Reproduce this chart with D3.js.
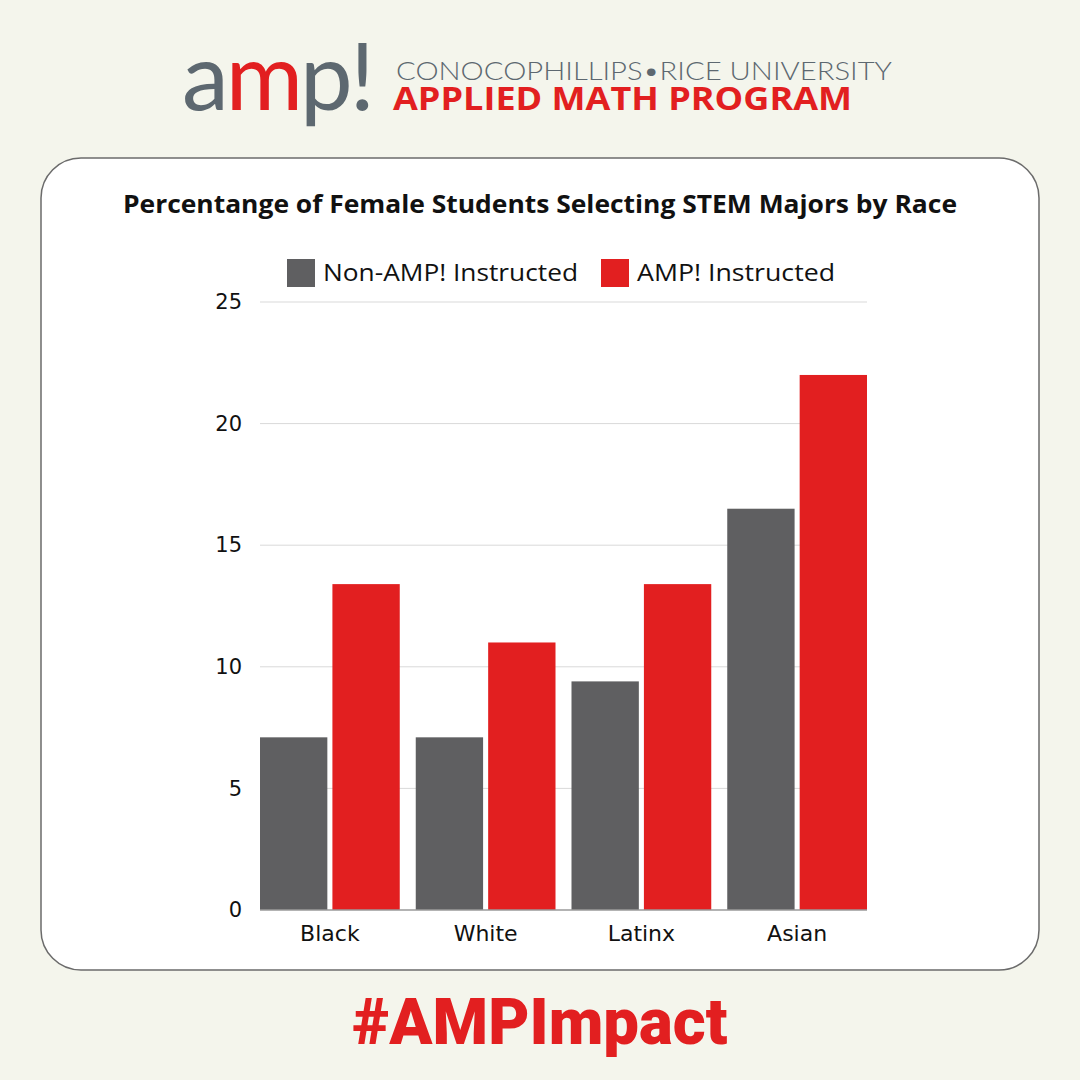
<!DOCTYPE html>
<html>
<head>
<meta charset="utf-8">
<script src="https://cdn.jsdelivr.net/npm/d3@7"></script>
<style>
html,body{margin:0;padding:0;background:#f4f5ec;}
svg{display:block;}
</style>
</head>
<body>
<svg id="chart" width="1080" height="1080"></svg>
<script>
const categories = ["Black", "White", "Latinx", "Asian"];
const seriesNames = ["Non-AMP! Instructed", "AMP! Instructed"];
const nonAmpValues = [7.1, 7.1, 9.4, 16.5];
const ampValues = [13.4, 11.0, 13.4, 22.0];
const yTicks = [0, 5, 10, 15, 20, 25];
const colors = ["#5f5f61", "#e21f20"];

const svg = d3.select("#chart");
svg.append("rect").attr("width",1080).attr("height",1080).attr("fill","#f4f5ec");

// Header logo
const logo = svg.append("text").attr("x",182).attr("y",110)
  .attr("font-family","Lato, 'DejaVu Sans', sans-serif").attr("font-weight",400)
  .attr("font-size",94).attr("letter-spacing",-3);
logo.append("tspan").attr("fill","#5d6870").text("a");
logo.append("tspan").attr("fill","#e21f20").text("m");
logo.append("tspan").attr("fill","#5d6870").text("p!");

svg.append("text").attr("x",396).attr("y",80)
  .attr("font-family","Lato, sans-serif").attr("font-weight",300)
  .attr("font-size",25).attr("fill","#5d6870")
  .attr("textLength",496).attr("lengthAdjust","spacingAndGlyphs")
  .text("CONOCOPHILLIPS\u2022RICE UNIVERSITY");
svg.append("text").attr("x",393).attr("y",110)
  .attr("font-family","'Open Sans', sans-serif").attr("font-weight",700)
  .attr("font-size",33).attr("fill","#e21f20")
  .attr("textLength",459).attr("lengthAdjust","spacingAndGlyphs")
  .text("APPLIED MATH PROGRAM");

// Card
svg.append("rect").attr("x",41).attr("y",158).attr("width",998).attr("height",812)
  .attr("rx",40).attr("ry",40).attr("fill","#ffffff").attr("stroke","#6b6b6b").attr("stroke-width",1.5);

svg.append("text").attr("x",540).attr("y",213).attr("text-anchor","middle")
  .attr("font-family","'Open Sans', sans-serif").attr("font-weight",700)
  .attr("font-size",25).attr("fill","#111")
  .attr("textLength",834).attr("lengthAdjust","spacingAndGlyphs")
  .text("Percentange of Female Students Selecting STEM Majors by Race");

// Legend
const legendX = [287, 601];
const legendLen = [255, 198];
seriesNames.forEach((n,i)=>{
  svg.append("rect").attr("x",legendX[i]).attr("y",259).attr("width",28).attr("height",28).attr("fill",colors[i]);
  svg.append("text").attr("x",legendX[i]+36).attr("y",281)
    .attr("font-family","'Open Sans', sans-serif").attr("font-size",23).attr("fill","#111")
    .attr("textLength",legendLen[i]).attr("lengthAdjust","spacingAndGlyphs").text(n);
});

// Chart
const margin = {left:260, right:867, top:302, bottom:910};
const x0 = d3.scaleBand().domain(categories).range([margin.left, margin.right + 16]).paddingInner(0).paddingOuter(0);
const x1 = d3.scaleBand().domain([0,1]).range([0, x0.bandwidth()-16]).paddingInner(0.07);
const y = d3.scaleLinear().domain([0,25]).range([margin.bottom, margin.top]);

const g = svg.append("g");
g.selectAll("line.grid").data(yTicks.filter(t=>t>0)).join("line")
  .attr("x1",margin.left).attr("x2",margin.right)
  .attr("y1",d=>y(d)).attr("y2",d=>y(d))
  .attr("stroke","#d9d9d9").attr("stroke-width",1);

const yAxis = g.append("g").attr("transform",`translate(${margin.left},0)`)
  .call(d3.axisLeft(y).tickValues(yTicks).tickSize(0).tickPadding(18));
yAxis.select(".domain").remove();
yAxis.selectAll("text").attr("font-family","'DejaVu Sans', sans-serif").attr("font-size",21).attr("fill","#111");

const data = categories.map((c,i)=>({cat:c, vals:[nonAmpValues[i], ampValues[i]]}));
const groups = g.selectAll("g.grp").data(data).join("g")
  .attr("transform",d=>`translate(${x0(d.cat)},0)`);
groups.selectAll("rect").data(d=>d.vals.map((v,i)=>({v,i}))).join("rect")
  .attr("x",d=>x1(d.i)).attr("width",x1.bandwidth())
  .attr("y",d=>y(d.v)).attr("height",d=>y(0)-y(d.v))
  .attr("fill",d=>colors[d.i]);

g.append("line").attr("x1",margin.left).attr("x2",margin.right)
  .attr("y1",y(0)).attr("y2",y(0)).attr("stroke","#9a9a9a").attr("stroke-width",1.5);

g.selectAll("text.cat").data(categories).join("text").attr("class","cat")
  .attr("x",d=>x0(d)+(x0.bandwidth()-16)/2).attr("y",941).attr("text-anchor","middle")
  .attr("font-family","'DejaVu Sans', sans-serif").attr("font-size",22).attr("fill","#111")
  .text(d=>d);

// Footer
svg.append("text").attr("x",540).attr("y",1044).attr("text-anchor","middle")
  .attr("font-family","Roboto, 'Liberation Sans', sans-serif").attr("font-weight",900)
  .attr("font-size",64).attr("fill","#e21f20")
  .attr("textLength",375).attr("lengthAdjust","spacingAndGlyphs")
  .text("#AMPImpact");
</script>
</body>
</html>
